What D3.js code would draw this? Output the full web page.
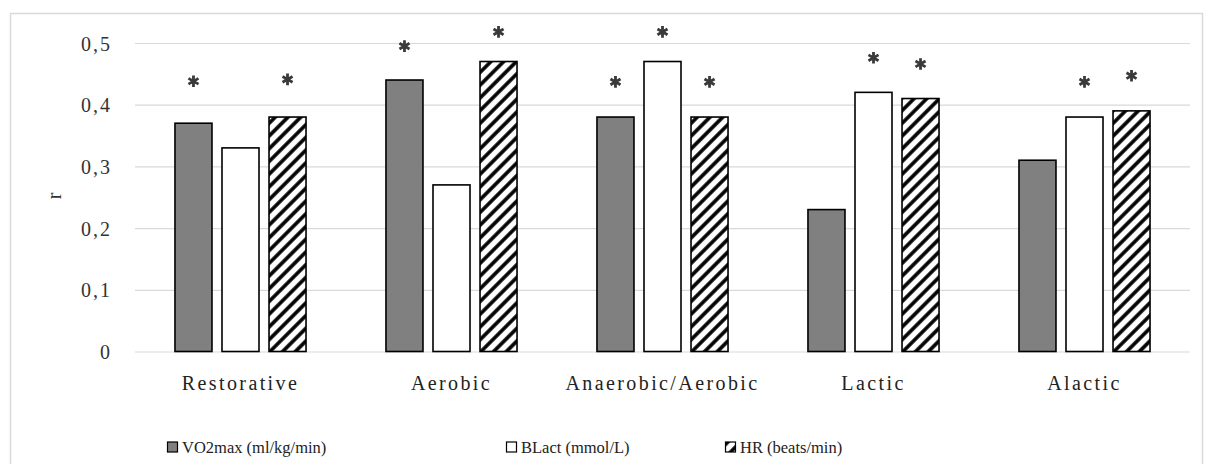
<!DOCTYPE html>
<html>
<head>
<meta charset="utf-8">
<script src="https://cdn.jsdelivr.net/npm/d3@7"></script>
<style>
  html, body { margin: 0; padding: 0; background: #fff; }
  svg { display: block; }
  svg text { font-family: "Liberation Serif", Tinos, "Times New Roman", "DejaVu Serif", serif; }
</style>
</head>
<body>
<svg id="chart" width="1205" height="464"></svg>
<script>
// ---- data ----
const categories = ["Restorative", "Aerobic", "Anaerobic/Aerobic", "Lactic", "Alactic"];
const seriesNames = ["VO2max (ml/kg/min)", "BLact (mmol/L)", "HR (beats/min)"];
const vo2max = [0.37, 0.44, 0.38, 0.23, 0.31];
const blact  = [0.33, 0.27, 0.47, 0.42, 0.38];
const hr     = [0.38, 0.47, 0.38, 0.41, 0.39];
// significance marker levels (null = no marker)
const vo2maxStar = [0.438, 0.495, 0.437, null, null];
const blactStar  = [null, null, 0.518, 0.476, 0.437];
const hrStar     = [0.441, 0.518, 0.437, 0.466, 0.447];
const yTickValues = [0, 0.1, 0.2, 0.3, 0.4, 0.5];
const yTickLabels = ["0", "0,1", "0,2", "0,3", "0,4", "0,5"];
const yAxisTitle = "r";

// ---- setup ----
const svg = d3.select("#chart");
const plotLeft = 135, plotRight = 1190, plotTop = 43, plotBottom = 351.5;
const serif = "Liberation Serif, Tinos, Times New Roman, DejaVu Serif, serif";

const seriesValues = [vo2max, blact, hr];
const seriesStars = [vo2maxStar, blactStar, hrStar];
const seriesKeys = ["vo2", "blact", "hr"];

// hatch pattern
const defs = svg.append("defs");
const pat = defs.append("pattern")
  .attr("id", "hatch")
  .attr("patternUnits", "userSpaceOnUse")
  .attr("width", 9).attr("height", 9)
  .attr("patternTransform", "rotate(45)");
pat.append("rect").attr("width", 9).attr("height", 9).attr("fill", "#fff");
pat.append("line").attr("x1", 2).attr("y1", 0).attr("x2", 2).attr("y2", 9)
  .attr("stroke", "#000").attr("stroke-width", 3.6);

const fills = { vo2: "#808080", blact: "#ffffff", hr: "url(#hatch)" };

// outer frame
svg.append("rect")
  .attr("x", 10.5).attr("y", 13.5).attr("width", 1192).attr("height", 470)
  .attr("fill", "none").attr("stroke", "#d9d9d9").attr("stroke-width", 1.5);

// scales
const y = d3.scaleLinear().domain([0, 0.5]).range([plotBottom, plotTop]);
const x0 = d3.scaleBand().domain(categories).range([plotLeft, plotRight]).padding(0);
const x1 = d3.scaleBand().domain(seriesKeys).range([0, x0.bandwidth()])
  .paddingInner(0.213).paddingOuter(0.85);

// gridlines
const grid = svg.append("g")
  .attr("transform", `translate(${plotLeft},0)`)
  .call(d3.axisLeft(y).tickValues(yTickValues).tickSize(-(plotRight - plotLeft)).tickFormat(""));
grid.select(".domain").remove();
grid.selectAll(".tick line").attr("stroke", "#d9d9d9").attr("stroke-width", 1.2);

// y tick labels
const yAxis = svg.append("g")
  .attr("transform", `translate(112,0)`)
  .call(d3.axisLeft(y).tickValues(yTickValues).tickSize(0).tickPadding(0)
    .tickFormat((d, i) => yTickLabels[i]));
yAxis.attr("font-family", serif).attr("font-size", 20);
yAxis.select(".domain").remove();
yAxis.selectAll("text")
  .style("font-family", serif).attr("font-size", 20).attr("fill", "#333")
  .attr("letter-spacing", 2).attr("dy", "0.35em");

// y axis title
svg.append("text")
  .attr("transform", "translate(61,196) rotate(-90)")
  .attr("text-anchor", "middle")
  .style("font-family", serif).attr("font-size", 20).attr("fill", "#333")
  .text(yAxisTitle);

// bars
const groups = svg.append("g").selectAll("g")
  .data(categories).join("g")
  .attr("transform", d => `translate(${x0(d)},0)`);

groups.selectAll("rect")
  .data((c, ci) => seriesKeys.map((k, si) => ({ k, v: seriesValues[si][ci] })))
  .join("rect")
  .attr("x", d => x1(d.k))
  .attr("y", d => y(d.v))
  .attr("width", x1.bandwidth())
  .attr("height", d => y(0) - y(d.v))
  .attr("fill", d => fills[d.k])
  .attr("stroke", "#000")
  .attr("stroke-width", 1.6);

// significance asterisks
const star = d3.symbol().type(d3.symbolAsterisk).size(95);
groups.selectAll("path.star")
  .data((c, ci) => seriesKeys.map((k, si) => ({ k, s: seriesStars[si][ci] })).filter(d => d.s != null))
  .join("path")
  .attr("class", "star")
  .attr("transform", d => `translate(${x1(d.k) + x1.bandwidth() / 2},${y(d.s)})`)
  .attr("d", star)
  .attr("fill", "none")
  .attr("stroke", "#3a3a3a")
  .attr("stroke-width", 2.8);

// category labels
const xAxis = svg.append("g")
  .attr("transform", `translate(0,${plotBottom})`)
  .call(d3.axisBottom(x0).tickSize(0).tickPadding(0));
xAxis.attr("font-family", serif).attr("font-size", 20);
xAxis.select(".domain").remove();
xAxis.selectAll("text")
  .style("font-family", serif).attr("font-size", 20).attr("fill", "#222")
  .attr("letter-spacing", 2.4).attr("dy", 0).attr("y", 38.5);

// legend
const legendX = [167, 506, 725];
const legend = svg.append("g").selectAll("g")
  .data(seriesKeys).join("g")
  .attr("transform", (d, i) => `translate(${legendX[i]},442)`);
legend.append("rect")
  .attr("x", 0.5).attr("y", 0).attr("width", 10).attr("height", 10)
  .attr("fill", d => fills[d]).attr("stroke", "#000").attr("stroke-width", 1.2);
legend.append("text")
  .attr("x", 15).attr("y", 11)
  .style("font-family", serif).attr("font-size", 16.5).attr("fill", "#222")
  .attr("letter-spacing", 0)
  .text((d, i) => seriesNames[i]);
</script>
</body>
</html>
